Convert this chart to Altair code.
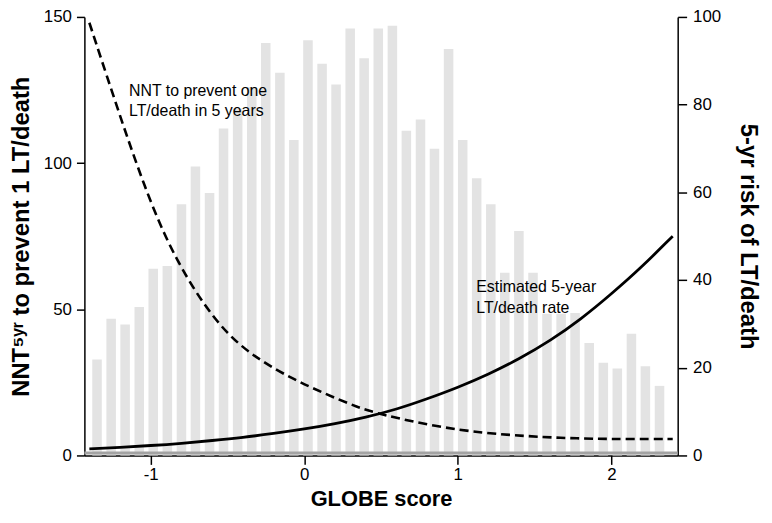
import altair as alt
import pandas as pd

# ---- histogram of GLOBE scores (left axis units) ----
bin_centers = [-1.350, -1.258, -1.167, -1.075, -0.984, -0.892, -0.800, -0.709, -0.617, -0.526,
               -0.434, -0.342, -0.251, -0.159, -0.068, 0.024, 0.116, 0.207, 0.299, 0.390,
               0.482, 0.574, 0.665, 0.757, 0.848, 0.940, 1.032, 1.123, 1.215, 1.306,
               1.398, 1.490, 1.581, 1.673, 1.764, 1.856, 1.948, 2.039, 2.131, 2.222, 2.314]
bar_heights = [32.8, 46.8, 44.8, 50.8, 63.9, 64.8, 85.9, 98.8, 89.8, 111.8,
               118.7, 126.0, 141.1, 130.9, 107.9, 142.0, 134.0, 126.9, 146.0, 135.9,
               146.0, 147.0, 111.1, 114.9, 104.9, 139.0, 107.9, 94.8, 85.9, 62.5,
               76.8, 62.5, 48.5, 48.5, 48.7, 38.5, 31.7, 29.7, 41.6, 30.5, 23.8]

# ---- NNT curve (dashed, left axis) ----
nnt_x = [-1.40, -1.25, -1.10, -0.92, -0.71, -0.50, -0.29, -0.07, 0.14, 0.35,
         0.50, 0.86, 1.18, 1.45, 1.67, 1.88, 2.10, 2.40]
nnt_y = [148.0, 124.0, 100.5, 75.5, 55.5, 41.0, 32.5, 26.0, 21.0, 16.4,
         14.0, 9.8, 7.6, 6.6, 6.0, 5.7, 5.6, 5.6]

# ---- estimated 5-year risk (solid, right axis) ----
risk_x = [-1.4, -1.2, -1.0, -0.8, -0.6, -0.4, -0.2, 0.0, 0.2, 0.4,
          0.6, 0.8, 1.0, 1.2, 1.4, 1.6, 1.8, 2.0, 2.2, 2.4]
risk_y = [1.5, 1.85, 2.25, 2.75, 3.4, 4.1, 5.0, 6.0, 7.2, 8.7,
          10.5, 12.9, 15.5, 18.5, 22.0, 26.1, 31.0, 36.8, 43.0, 50.0]

x_ticks = [-1, 0, 1, 2]
left_ticks = [0, 50, 100, 150]
right_ticks = [0, 20, 40, 60, 80, 100]

FONT = "Liberation Sans"
W, H = 598, 442

df_bars = pd.DataFrame({"score": bin_centers, "value": bar_heights})
df_nnt = pd.DataFrame({"score": nnt_x, "value": nnt_y})
df_risk = pd.DataFrame({"score": risk_x, "risk": risk_y})
one = pd.DataFrame({"a": [0]})

xscale = alt.Scale(domain=[-1.4, 2.4], nice=False, zero=False)
x_axis = alt.Axis(values=x_ticks, title="GLOBE score", labelExpr="'' + datum.value",
                  tickSize=9, labelPadding=2, titleY=50, titleBaseline="alphabetic",
                  titleFontSize=22)
left_scale = alt.Scale(domain=[0, 150], nice=False)
left_axis = alt.Axis(values=left_ticks, title="NNT⁵ʸʳ to prevent 1 LT/death",
                     titleAngle=270, titleX=-63, titleY=H / 2, titleAlign="center",
                     titleBaseline="middle", labelPadding=5)
right_axis = alt.Axis(orient="right", values=right_ticks, title="5-yr risk of LT/death",
                      titleAngle=90, titleX=70, titleY=H / 2, titleAlign="center",
                      titleBaseline="middle", labelPadding=6, tickSize=9)

bars = alt.Chart(df_bars).mark_bar(size=9.6, color="#e3e3e3").encode(
    x=alt.X("score:Q", scale=xscale, axis=x_axis),
    y=alt.Y("value:Q", scale=left_scale, axis=left_axis),
)
nnt = alt.Chart(df_nnt).mark_line(color="black", strokeWidth=2.6, strokeDash=[9, 5],
                                  interpolate="basis").encode(
    x=alt.X("score:Q", scale=xscale, axis=x_axis),
    y=alt.Y("value:Q", scale=left_scale, axis=left_axis),
)
risk = alt.Chart(df_risk).mark_line(color="black", strokeWidth=2.8,
                                    interpolate="basis").encode(
    x=alt.X("score:Q", scale=xscale, axis=x_axis),
    y=alt.Y("risk:Q", scale=alt.Scale(domain=[0, 100], nice=False), axis=right_axis),
)
band = alt.Chart(one).mark_rule(color="#a3a3a3", strokeWidth=3).encode(
    x=alt.value(0), x2=alt.value(W), y=alt.value(H - 2.5)
)
t1 = alt.Chart(one).mark_text(align="left", baseline="alphabetic", fontSize=16,
                              font=FONT, lineHeight=20, color="black").encode(
    x=alt.value(45), y=alt.value(80),
    text=alt.value(["NNT to prevent one", "LT/death in 5 years"]),
)
t2 = alt.Chart(one).mark_text(align="left", baseline="alphabetic", fontSize=16,
                              font=FONT, lineHeight=21, color="black").encode(
    x=alt.value(395), y=alt.value(277),
    text=alt.value(["Estimated 5-year", "LT/death rate"]),
)

chart = alt.layer(alt.layer(bars, nnt), risk, band, t1, t2).resolve_scale(
    y="independent"
).properties(
    width=W, height=H,
    padding={"left": 77, "top": 7, "right": 87, "bottom": 55},
    autosize=alt.AutoSizeParams(type="none"),
).configure_view(stroke=None).configure_axis(
    grid=False, domainColor="black", tickColor="black", labelColor="black",
    titleColor="black", labelFont=FONT, titleFont=FONT, labelFontSize=17,
    titleFontSize=24, titleFontWeight="bold", domainWidth=1.5, tickWidth=1.5,
    tickSize=8, zindex=1,
)

chart.save("out.html", embed_options={"renderer": "svg", "actions": False})
